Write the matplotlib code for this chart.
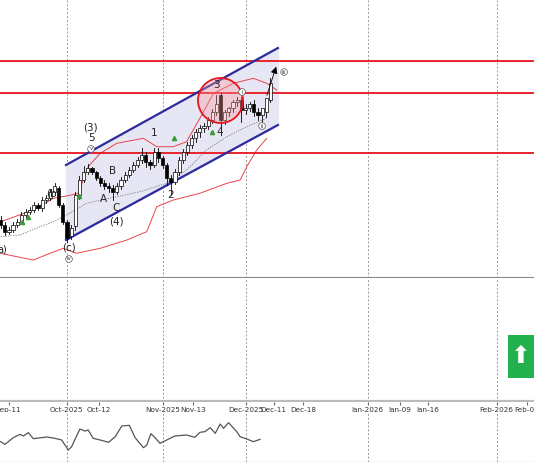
import matplotlib
matplotlib.use("Agg")
import matplotlib.pyplot as plt
from matplotlib.patches import Rectangle

closes = [75,68,70,75,78,85,88,90,95,92,100,102,108,114,95,78,62,72,105,120,128,132,128,122,117,114,112,108,114,120,125,130,135,140,145,138,135,148,142,135,122,118,128,140,148,155,162,168,172,174,180,188,196,180,188,192,198,200,190,192,196,188,185,192,202,217]
opens = [80,75,68,70,75,78,85,88,90,95,92,100,102,108,112,95,78,64,74,105,120,128,132,128,122,117,114,112,108,114,120,125,130,135,140,145,138,135,148,142,135,122,118,128,140,148,155,162,168,172,174,180,188,205,180,188,192,198,200,190,192,196,188,185,188,200]
highs = [84,78,73,78,81,88,91,93,98,97,103,105,111,117,114,97,80,75,108,124,134,136,133,129,124,120,117,115,117,123,128,133,138,143,152,148,140,152,152,144,137,125,131,143,151,158,165,171,175,177,183,191,205,207,190,193,200,203,203,196,198,200,192,190,195,222]
lows = [72,65,66,68,73,76,83,86,88,90,89,97,100,105,93,76,58,61,70,101,118,126,126,120,114,111,108,100,106,111,118,123,128,133,137,133,131,133,138,132,115,105,116,125,137,145,152,158,163,168,171,177,185,165,176,184,188,194,178,186,189,184,180,175,183,198]

up_x = [0,7.9,12.7,15.9,18.7,21.1,24,28,34.4,37.6,41.6,44.8,48,51.3,56.1,60.9,64.1,66.5]
up_v = [78.3,90,101.7,104,106.7,133.3,146.7,156.7,161.7,153.3,153.3,158.3,181.7,206.7,216.7,221.7,216.7,210]
lo_x = [0,3.9,7.9,11.9,15.1,18.3,24,30.4,35.2,37.6,41.6,48,54.5,57.7,59.3,61.7,64.1]
lo_v = [46.7,43.3,40,46.7,51.7,46.7,51.7,60,68.3,93.3,100,106.7,116.7,120,133.3,150,161.7]
mid_x = [0,4.7,9.5,12.7,15.9,20.7,28,33.6,40,44.8,49.6,54.5,59.3,64.1]
mid_v = [63.3,65,73.3,78.3,85,96.7,103.3,108.3,116.7,130,150,163.3,173.3,181.7]

osc_x = [0,1.05,3.06,4.67,5.47,6.68,7.88,11.1,13.1,14.7,16.3,17.1,19.1,20.3,21.1,22.3,24,26,27.6,29.2,31,32.4,34.4,35.2,36.2,37.2,38.4,40,42,44.8,46.8,48,49.2,50.5,51.7,52.9,53.7,54.9,56.9,57.7,59.3,60.9,62.5]
osc_v = [45,37,57,67,62,72,54,59,55,50,20,30,83,77,80,55,50,43,60,92,94,57,27,34,69,57,40,50,62,65,58,73,75,87,70,98,85,102,75,60,53,45,52]

levels = [239, 207, 147]
chan_x = [15.75, 66.8]
chan_lo = [60, 175]
chan_hi = [135, 252]

major_pos = [15.9, 39.0, 59.0, 88.4, 119.5]
major_lab = ["Oct-2025", "Nov-2025", "Dec-2025", "Jan-2026", "Feb-2026"]
minor_pos = [1.9, 23.6, 46.3, 65.8, 72.8, 96.1, 103.0, 126.7]
minor_lab = ["Sep-11", "Oct-12", "Nov-13", "Dec-11", "Dec-18", "Jan-09", "Jan-16", "Feb-06"]

W, H = 534, 462
XL = (-0.15, 128.5)
def X(px):
    return px / 4.15 - 0.15
def P(y):
    return 300 - y

fig = plt.figure(figsize=(W/100, H/100), dpi=100)
ax = fig.add_axes([0, (H-278)/H, 1, 278/H])
ax2 = fig.add_axes([0, (H-402)/H, 1, 124/H])
ax3 = fig.add_axes([0, 0, 1, 50/H])
for a in (ax, ax2, ax3):
    a.set_xlim(*XL)
    a.set_yticks([])
    for xp in major_pos:
        a.axvline(xp, color="#999999", ls=(0, (2, 2)), lw=0.7, zorder=0)
    for s in a.spines.values():
        s.set_visible(False)
    a.set_xticks([])
ax.spines["bottom"].set_visible(True)
ax.spines["bottom"].set_color("#888888")
ax.spines["bottom"].set_linewidth(1.5)
ax.set_ylim(22, 300)

# channel
ax.fill_between(chan_x, chan_lo, chan_hi, color="#e6e6f5", zorder=1)
ax.plot(chan_x, chan_lo, color="#2b2b9e", lw=1.6, zorder=5)
ax.plot(chan_x, chan_hi, color="#2b2b9e", lw=1.6, zorder=5)
for lv in levels:
    ax.axhline(lv, color="#e8141c", lw=1.3, zorder=4)

ax.plot(up_x, up_v, color="#e8454a", lw=0.7, zorder=2)
ax.plot(lo_x, lo_v, color="#e8454a", lw=0.7, zorder=2)
ax.plot(mid_x, mid_v, color="#777777", lw=0.6, ls=(0, (1.5, 1.5)), zorder=2)

for i, (o, c, h, l) in enumerate(zip(opens, closes, highs, lows)):
    ax.plot([i, i], [l, h], color="black", lw=0.6, zorder=6)
    fc = "white" if c >= o else "black"
    ax.add_patch(Rectangle((i-0.38, min(o, c)), 0.76, max(abs(c-o), 0.8),
                           facecolor=fc, edgecolor="black", lw=0.5, zorder=7))

ax.scatter([X(220)], [P(100)], s=1050, facecolor=(1, 0.6, 0.6, 0.35),
           edgecolor="#e8141c", lw=1.3, zorder=8)

ax.annotate("", xy=(X(277), P(64)), xytext=(X(266), P(98)),
            arrowprops=dict(arrowstyle="-|>", color="black", lw=0.6), zorder=9)

labs = [("(3)", 90, 127), ("5", 91, 138), ("A", 103, 199), ("B", 113, 171),
        ("C", 116, 208), ("(4)", 116, 222), ("1", 154, 133), ("2", 171, 195),
        ("3", 216, 85), ("4", 220, 132), ("(b)", 53, 193), ("(c)", 69, 248)]
for t, px, py in labs:
    ax.text(X(px), P(py), t, ha="center", va="center", fontsize=7.5, color="#222222", zorder=9)
circ = [("v", 91, 149), ("iv", 69, 259), ("ii", 262, 126), ("iii", 284, 72), ("i", 242, 92)]
for t, px, py in circ:
    ax.text(X(px), P(py), t, ha="center", va="center", fontsize=4, color="#333333", zorder=9,
            bbox=dict(boxstyle="circle,pad=0.15", fc="white", ec="#555555", lw=0.5))
ax.text(X(2), P(250), "a)", ha="center", va="center", fontsize=7, color="#222222")
for px, py in [(79, 196), (22, 222), (28, 217), (174, 138), (212, 132)]:
    ax.plot(X(px), P(py), marker="^", color="#3a9a3a", ms=3, zorder=9)

# date strip
ax2.set_ylim(0, 1)
ax2.axhline(0.0, color="#bbbbbb", lw=3)
ax2.set_xticks(major_pos + minor_pos)
ax2.set_xticklabels(major_lab + minor_lab, fontsize=5.2, color="#333333")
ax2.tick_params(axis="x", length=2, pad=1.5, color="#666666")
ax2.add_patch(Rectangle((508/W, (402-378)/124), 28/W, 43/124, transform=ax2.transAxes,
                        facecolor="#22b14c", edgecolor="none", zorder=5))
ax2.text(521/W, (402-356)/124, "⬆", transform=ax2.transAxes, ha="center", va="center",
         color="white", fontsize=17, zorder=6)

ax3.set_ylim(-16, 134)
ax3.plot(osc_x, osc_v, color="#555555", lw=0.9)
ax3.spines["bottom"].set_visible(True)
ax3.spines["bottom"].set_color("#888888")

fig.savefig("out.png", dpi=100)
